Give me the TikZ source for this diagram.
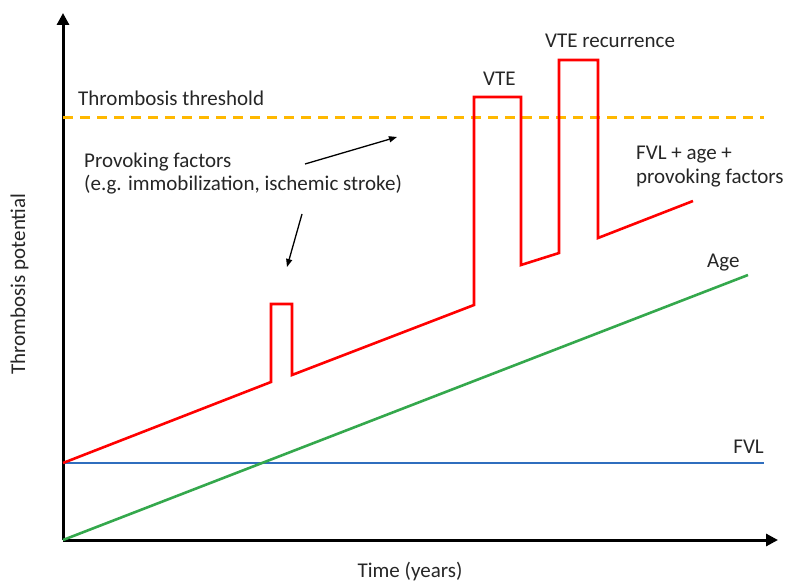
\documentclass[tikz,border=0pt]{standalone}
\usepackage{fontspec}
\setmainfont{Carlito}
\usetikzlibrary{arrows.meta, positioning}
\definecolor{txtgray}{RGB}{38,38,38}
\definecolor{fvlblue}{RGB}{47,110,190}
\definecolor{agegreen}{RGB}{52,168,76}
\definecolor{throrange}{RGB}{255,184,0}

\begin{document}
\begin{tikzpicture}[x=1pt, y=-1pt, font=\fontsize{21}{24}\selectfont,
    lbl/.style={text=txtgray, inner sep=0pt},
    axis/.style={line width=3pt, -{Triangle[length=12pt,width=12pt]}},
    hint/.style={line width=1.3pt, -{Triangle[length=8pt,width=6pt]}},
    curve/.style={line width=2.6pt, line join=miter}]
    \useasboundingbox (0,0) rectangle (792,583);

    % axes
    \coordinate (o) at (63,540);
    \coordinate (ytop) at (63,13);
    \coordinate (xend) at (778,540);
    \draw[axis] (o) -- (ytop);
    \draw[axis] (o) -- (xend);

    % threshold
    \draw[throrange, line width=3pt, dash pattern=on 10pt off 7pt] (63,118) -- (764,118);

    % FVL and age
    \draw[curve, fvlblue] (63,463) -- (764,463);
    \draw[curve, agegreen] (o) -- (748,275);

    % FVL + age + provoking factors
    \draw[curve, red] (63,463) -- (271,382) -- (271,304) -- (292,304) -- (292,375)
        -- (474,305) -- (474,97) -- (521,97) -- (521,265) -- (559,253)
        -- (559,60) -- (598,60) -- (598,238) -- (693,201);

    % labels
    \node[lbl, anchor=base west] (thr) at (78,106) {Thrombosis threshold};
    \node[lbl, anchor=base west] (prov1) at (84,167) {Provoking factors};
    \node[lbl, anchor=base west] (prov2) at ([yshift=-23pt]prov1.base west) {(e.g. immobilization, ischemic stroke)};
    \node[lbl, anchor=base west] (vte) at (483,86) {VTE};
    \node[lbl, anchor=base west] (vterec) at (545,48) {VTE recurrence};
    \node[lbl, anchor=base west] (sum1) at (636,159) {FVL + age +};
    \node[lbl, anchor=base west] (sum2) at ([yshift=-24pt]sum1.base west) {provoking factors};
    \node[lbl, anchor=base west] (age) at (707,267) {Age};
    \node[lbl, anchor=base east] (fvl) at (764,453) {FVL};
    \node[lbl, anchor=base, rotate=90] (ylab) at (25,284) {Thrombosis potential};
    \node[lbl, anchor=base] (xlab) at (410,577) {Time (years)};

    % pointers
    \coordinate (p1s) at (305,164);
    \coordinate (p1e) at (397,137);
    \coordinate (p2s) at (302,214);
    \coordinate (p2e) at (287,267);
    \draw[hint] (p1s) -- (p1e);
    \draw[hint] (p2s) -- (p2e);
\end{tikzpicture}
\end{document}
